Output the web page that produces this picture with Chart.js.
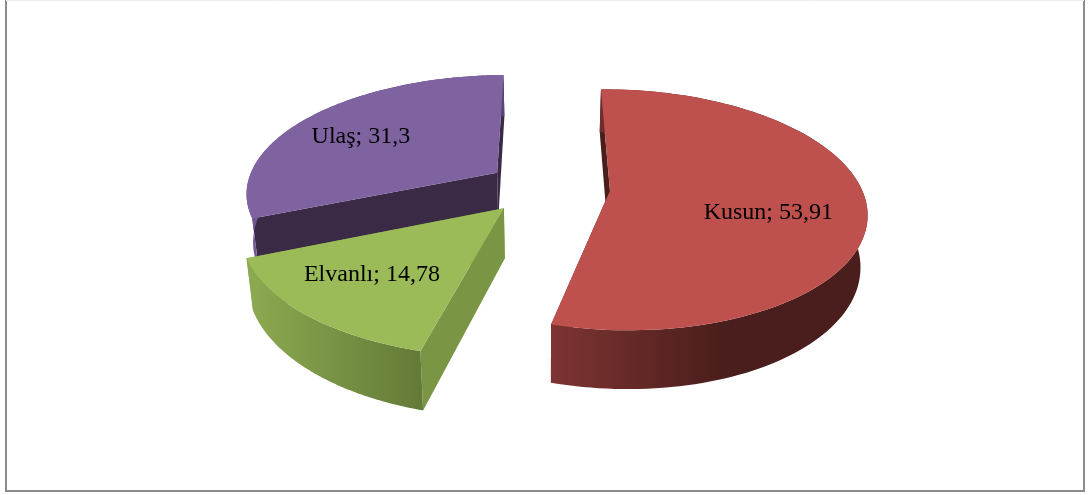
<!DOCTYPE html>
<html><head><meta charset="utf-8">
<style>html,body{margin:0;padding:0;background:#fff}canvas{display:block}</style>
<script src="https://cdn.jsdelivr.net/npm/chart.js@4"></script>
</head><body><canvas id="c" width="1088" height="495"></canvas>
<script>
const categories = ["Kusun", "Elvanlı", "Ulaş"];
const values = [53.91, 14.78, 31.3];
const valueLabels = ["53,91", "14,78", "31,3"];
const topColors = ["#BE504D", "#9BBB59", "#7F62A0"];
const wallLight = ["#7E3432", "#8BA94F", "#6F5790"];
const wallDark = ["#4A1E1C", "#637A38", "#5A4578"];
const radialColors = ["#4A1E1C", "#7A9645", "#3A2A46"];
const explodePx = [56, 51, 49];
const sliceScaleX = [0.945, 1, 1];
const sliceScaleY = [0.98, 1, 1];
const labelRadius = [0.6, 0.67, 0.68];
const labelTurn = [0.18, 0.03, -0.06];

// perspective view of the disc
const view = {cy: 187, scale: 258, height: 118, perspY: 0.16, perspX: 0.02, depth: 49, pinch: 0.022};

function project(X, Y, z) {
  const w = 1 - view.perspY * Y - view.perspX * X;
  return [view.scale * X / w * (1 - view.pinch * z), view.cy + (view.height * Y + z * view.depth) / w];
}

const pie3d = {
  id: 'pie3d',
  beforeDatasetDraw(chart, args) {
    const ctx = chart.ctx;
    const arcs = chart.getDatasetMeta(args.index).data.map((el, i) => {
      const p = el.getProps(['x', 'startAngle', 'endAngle', 'outerRadius'], true);
      const mid = (p.startAngle + p.endAngle) / 2;
      const off = el.options.offset / p.outerRadius;
      return {i, x: p.x, a0: p.startAngle, a1: p.endAngle, mid, ox: Math.cos(mid) * off, oy: Math.sin(mid) * off};
    });
    const pt = (s, X, Y, z) => {
      const q = project(X + s.ox, Y + s.oy, z);
      return [s.x + q[0], q[1]];
    };
    const rim = (s, z) => {
      const out = [];
      const n = 120;
      for (let k = 0; k <= n; k++) {
        const a = s.a0 + (s.a1 - s.a0) * k / n;
        out.push(pt(s, Math.cos(a) * sliceScaleX[s.i], Math.sin(a) * sliceScaleY[s.i], z));
      }
      return out;
    };
    const fillPoly = (pts, style) => {
      ctx.beginPath();
      pts.forEach((p, k) => k ? ctx.lineTo(p[0], p[1]) : ctx.moveTo(p[0], p[1]));
      ctx.closePath();
      ctx.fillStyle = style;
      ctx.fill();
    };
    arcs.slice().sort((a, b) => Math.sin(a.mid) - Math.sin(b.mid)).forEach(s => {
      const top = rim(s, 0), bot = rim(s, 1);
      const c0 = pt(s, 0, 0, 0), c1 = pt(s, 0, 0, 1);
      fillPoly([c0, top[0], bot[0], c1], radialColors[s.i]);
      fillPoly([c0, top[top.length - 1], bot[bot.length - 1], c1], radialColors[s.i]);
      const xs = bot.map(p => p[0]);
      const g = ctx.createLinearGradient(Math.min(...xs), 0, Math.max(...xs), 0);
      g.addColorStop(0, wallLight[s.i]);
      g.addColorStop(s.i === 0 ? 0.55 : 1, wallDark[s.i]);
      g.addColorStop(1, wallDark[s.i]);
      fillPoly(top.concat(bot.slice().reverse()), g);
      fillPoly([c0].concat(top), topColors[s.i]);
    });
    ctx.fillStyle = '#000';
    ctx.font = '24px "Liberation Serif"';
    ctx.textAlign = 'center';
    ctx.textBaseline = 'middle';
    arcs.forEach(s => {
      const r = labelRadius[s.i], a = s.mid + labelTurn[s.i];
      const q = pt(s, Math.cos(a) * r, Math.sin(a) * r, 0);
      ctx.fillText(categories[s.i] + '; ' + valueLabels[s.i], q[0], q[1]);
    });
    return false;
  },
  afterDraw(chart) {
    const ctx = chart.ctx;
    ctx.strokeStyle = '#8C8C8C';
    ctx.lineWidth = 2;
    ctx.beginPath();
    ctx.moveTo(6, 0); ctx.lineTo(6, 491); ctx.lineTo(1084, 491); ctx.lineTo(1084, 0);
    ctx.stroke();
    ctx.strokeStyle = '#EDEDED';
    ctx.lineWidth = 1;
    ctx.beginPath();
    ctx.moveTo(6, 0.5); ctx.lineTo(1084, 0.5);
    ctx.stroke();
  }
};

new Chart(document.getElementById('c'), {
  type: 'pie',
  data: {labels: categories, datasets: [{data: values, backgroundColor: topColors, offset: explodePx, borderWidth: 0}]},
  options: {
    responsive: false, animation: false,
    plugins: {legend: {display: false}, tooltip: {enabled: false}}
  },
  plugins: [pie3d]
});
</script></body></html>
